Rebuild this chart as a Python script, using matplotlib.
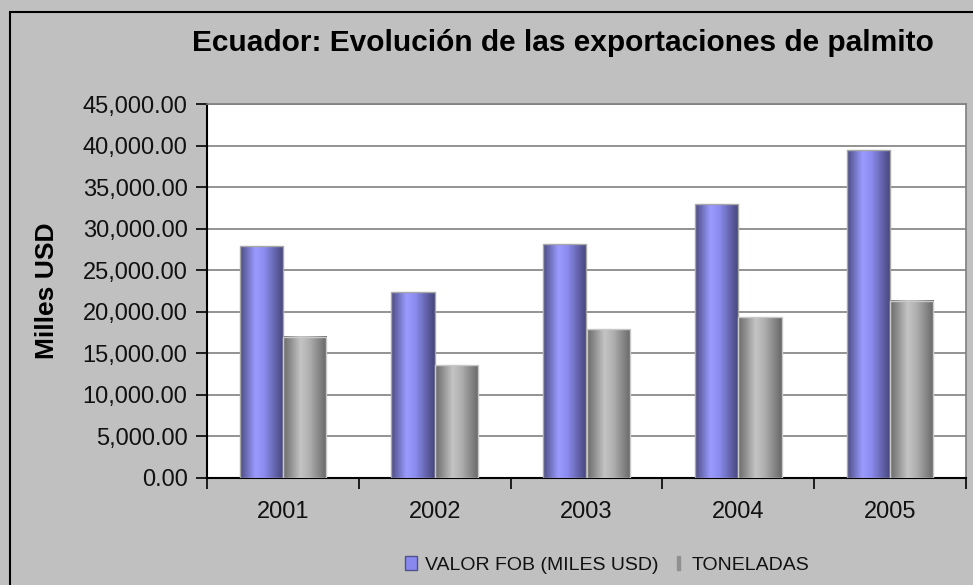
import matplotlib.pyplot as plt
import numpy as np
from matplotlib.patches import Rectangle
from matplotlib.ticker import FuncFormatter, FixedLocator
from matplotlib.colors import LinearSegmentedColormap

plt.rcParams['font.family'] = ['Liberation Sans', 'DejaVu Sans']

# Data
years = ["2001", "2002", "2003", "2004", "2005"]
valor_fob = [27950, 22350, 28200, 32980, 39500]
toneladas = [17000, 13600, 17950, 19400, 21350]

title = "Ecuador: Evolución de las exportaciones de palmito"
ylabel = "Milles USD"
labels = ["VALOR FOB (MILES USD)", "TONELADAS"]

x = np.arange(len(years))
width = 1 / 3.5

fig = plt.figure(figsize=(9.73, 5.85), dpi=100)
fig.patch.set_facecolor("#C0C0C0")

# outer chart border (cut off at right and bottom)
fig.patches.append(Rectangle((10 / 973, -0.2), 1.2, 1.2 - 12 / 585,
                             transform=fig.transFigure, fill=False,
                             edgecolor="black", linewidth=1.5))

ax = fig.add_axes([207 / 973, 1 - 477.7 / 585, 759 / 973, 373.4 / 585])
ax.set_facecolor("white")

blue_cmap = LinearSegmentedColormap.from_list(
    "b", [(0, "#4E4E86"), (0.35, "#9A9AFF"), (0.55, "#8C8CF0"), (1, "#45457A")])
gray_cmap = LinearSegmentedColormap.from_list(
    "g", [(0, "#6A6A6A"), (0.4, "#C4C4C4"), (0.6, "#B0B0B0"), (1, "#686868")])

bars1 = ax.bar(x - width / 2, valor_fob, width, color="#9999FF",
               edgecolor="#A8A8A8", linewidth=1, zorder=3, label=labels[0])
bars2 = ax.bar(x + width / 2, toneladas, width, color="#C0C0C0",
               edgecolor="#C8C8C8", linewidth=1, zorder=3, label=labels[1])

# cylinder-like shading, as in the original spreadsheet chart
grad = np.linspace(0, 1, 64).reshape(1, -1)
for bars, cmap in ((bars1, blue_cmap), (bars2, gray_cmap)):
    for b in bars:
        x0 = b.get_x()
        ax.imshow(grad, cmap=cmap, aspect="auto", zorder=3.5,
                  extent=(x0, x0 + b.get_width(), 0, b.get_height()))
        b.set_facecolor("none")
        b.set_zorder(4)

ax.set_xlim(-0.5, len(years) - 0.5)
ax.set_ylim(0, 45000)
ax.yaxis.set_major_locator(FixedLocator(np.arange(0, 45001, 5000)))
ax.yaxis.set_major_formatter(FuncFormatter(lambda v, p: f"{v:,.2f}"))
ax.grid(axis="y", color="#808080", linewidth=1.2, zorder=1)

# category boundaries get the ticks, labels sit in the middle
ax.set_xticks(np.arange(len(years) + 1) - 0.5)
ax.set_xticklabels([])
ax.set_xticks(x, minor=True)
ax.set_xticklabels(years, minor=True)
ax.tick_params(axis="x", which="major", direction="out", length=8, width=1.2, color="black")
ax.tick_params(axis="x", which="minor", length=0, pad=17, labelsize=17, labelcolor="#111111")
ax.tick_params(axis="y", direction="out", length=8, width=1.2, labelsize=17, pad=6,
               labelcolor="#111111")

for s in ("left", "bottom"):
    ax.spines[s].set_color("black")
    ax.spines[s].set_linewidth(1.5)
for s in ("top", "right"):
    ax.spines[s].set_color("#808080")
    ax.spines[s].set_linewidth(1.2)

ax.set_ylabel(ylabel, fontsize=19, fontweight="bold", labelpad=17)
fig.text(0.579, 1 - 43 / 585, title, ha="center", va="center",
         fontsize=21.5, fontweight="bold")

h1 = Rectangle((0, 0), 1, 1, facecolor="#8888EE", edgecolor="#50508A")
h2 = Rectangle((0, 0), 1, 1, facecolor="#909090", edgecolor="#909090")
leg = fig.legend([h1, h2], labels, loc="center", bbox_to_anchor=(0.624, 1 - 565 / 585),
                 ncol=2, frameon=False, fontsize=14, handlelength=0.6,
                 handleheight=0.7, handletextpad=0.4, columnspacing=0.7)
for t in leg.get_texts():
    t.set_color("#111111")
leg.legend_handles[1].set_width(2)
leg.legend_handles[1].set_x(leg.legend_handles[1].get_x() + 4)

fig.savefig("out.png", dpi=100, facecolor=fig.get_facecolor())
